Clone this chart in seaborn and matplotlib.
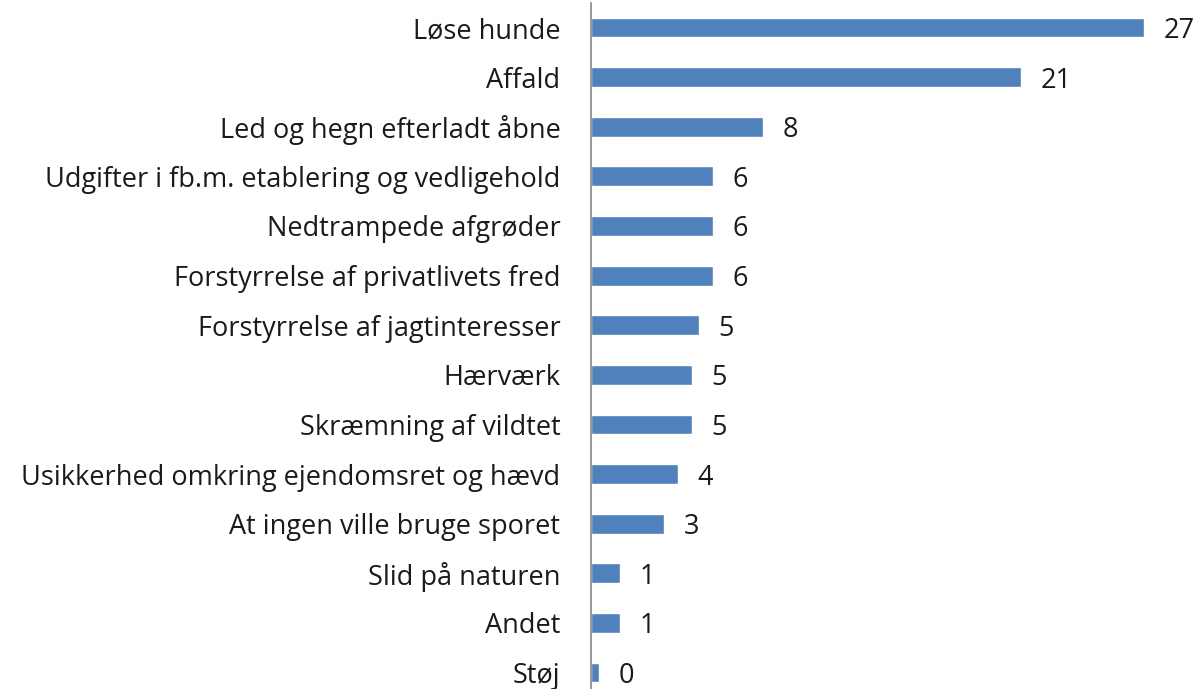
import matplotlib
matplotlib.use('Agg')
import matplotlib.pyplot as plt
import seaborn as sns
import pandas as pd

# categories, top to bottom
categories = ['Løse hunde', 'Affald', 'Led og hegn efterladt åbne',
              'Udgifter i fb.m. etablering og vedligehold', 'Nedtrampede afgrøder',
              'Forstyrrelse af privatlivets fred', 'Forstyrrelse af jagtinteresser',
              'Hærværk', 'Skræmning af vildtet', 'Usikkerhed omkring ejendomsret og hævd',
              'At ingen ville bruge sporet', 'Slid på naturen', 'Andet', 'Støj']
# bar lengths
values = [27.0, 21.0, 8.4, 5.96, 5.96, 5.96, 5.27, 4.93, 4.93, 4.25, 3.56, 1.42, 1.42, 0.39]
# value labels as printed
value_labels = ['27', '21', '8', '6', '6', '6', '5', '5', '5', '4', '3', '1', '1', '0']

df = pd.DataFrame({'category': categories, 'value': values})

sns.set_style('white')
plt.rcParams['font.family'] = ['Open Sans', 'DejaVu Sans']

fig = plt.figure(figsize=(11.94, 6.89), dpi=100)
ax = fig.add_axes([0.495, -0.012, 0.48, 1.008])

sns.barplot(data=df, x='value', y='category', color='#4F81BD', width=0.4,
            saturation=1, ax=ax)

ax.set_xlim(0, 28)
ax.set_xlabel('')
ax.set_ylabel('')
ax.set_xticks([])
for s in ['top', 'right', 'bottom']:
    ax.spines[s].set_visible(False)
ax.spines['left'].set_color('#868686')
ax.spines['left'].set_linewidth(1.2)
ax.tick_params(axis='y', length=0, pad=22, labelsize=19.5, labelcolor='#1a1a1a')
for t in ax.get_yticklabels():
    t.set_verticalalignment('center_baseline')

labels = ax.bar_label(ax.containers[0], labels=value_labels, padding=14,
                      fontsize=19.5, color='#1a1a1a')
for t in labels:
    t.set_verticalalignment('center_baseline')

fig.savefig('out.png', dpi=100)
